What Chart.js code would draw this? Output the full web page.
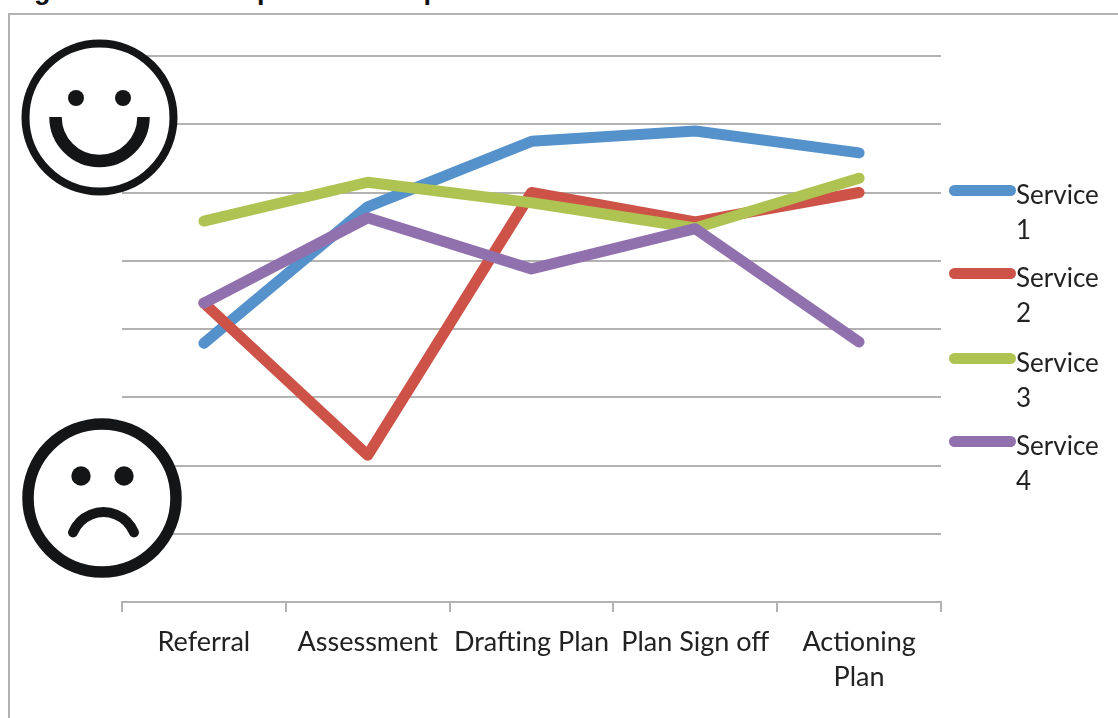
<!DOCTYPE html>
<html>
<head>
<meta charset="utf-8">
<title>Service journey</title>
<script src="https://cdn.jsdelivr.net/npm/chart.js@4"></script>
<style>
    html, body { margin: 0; padding: 0; background: #fff; overflow: hidden; }
    #wrap { position: relative; width: 1118px; height: 718px; font-family: Lato, sans-serif; color: #222; }
    #heading { position: absolute; left: 10px; top: -23px; font: bold 27px/27px "Liberation Sans", sans-serif; color: #111; white-space: nowrap; }
    #frame { position: absolute; left: 8px; top: 13px; width: 1120px; height: 720px; border: 2px solid #b3b1b1; box-sizing: border-box; }
    #chartJourney { position: absolute; left: 0; top: 0; }
    .key { position: absolute; left: 949px; width: 160px; }
    .key i { position: absolute; left: 0; top: 0; width: 67px; height: 11px; border-radius: 6px; }
    .key span { position: absolute; left: 67px; top: -8px; font-size: 26px; line-height: 35px; }
</style>
</head>
<body>
<div id="wrap">
    <div id="heading">Figure 1: Visual map of the CPA process</div>
    <div id="frame"></div>
    <canvas id="chartJourney" width="1118" height="718"></canvas>
    <div id="legend"></div>
</div>
<script>
// 단계별 서비스 점수
const stages = ['Referral', 'Assessment', 'Drafting Plan', 'Plan Sign off', ['Actioning', 'Plan']];
const serviceNames = ['Service 1', 'Service 2', 'Service 3', 'Service 4'];
const service1 = [3.79, 5.79, 6.75, 6.90, 6.58];
const service2 = [4.38, 2.15, 6.00, 5.57, 6.00];
const service3 = [5.58, 6.15, 5.85, 5.48, 6.21];
const service4 = [4.38, 5.63, 4.88, 5.47, 3.81];
const serviceColors = ['#5591cb', '#cd5349', '#afc353', '#9170ae'];
const legendTops = [185, 268, 353, 436];

// 웃는 얼굴
function drawHappyFace(ctx) {
    ctx.save();
    ctx.fillStyle = '#fff';
    ctx.strokeStyle = '#141516';
    ctx.lineWidth = 8;
    ctx.beginPath();
    ctx.arc(99.5, 117.5, 74, 0, Math.PI * 2);
    ctx.fill();
    ctx.stroke();
    ctx.fillStyle = '#141516';
    [76, 123].forEach(function (x) {
        ctx.beginPath();
        ctx.arc(x, 98, 8, 0, Math.PI * 2);
        ctx.fill();
    });
    ctx.lineWidth = 12.5;
    ctx.lineCap = 'butt';
    ctx.beginPath();
    ctx.arc(99.5, 117, 44, Math.PI, 0, true);
    ctx.stroke();
    ctx.restore();
}

// 찡그린 얼굴
function drawSadFace(ctx) {
    ctx.save();
    ctx.fillStyle = '#fff';
    ctx.strokeStyle = '#141516';
    ctx.lineWidth = 11.5;
    ctx.beginPath();
    ctx.arc(102, 498, 74, 0, Math.PI * 2);
    ctx.fill();
    ctx.stroke();
    ctx.fillStyle = '#141516';
    [81, 124].forEach(function (x) {
        ctx.beginPath();
        ctx.arc(x, 476, 9.7, 0, Math.PI * 2);
        ctx.fill();
    });
    ctx.lineWidth = 10;
    ctx.lineCap = 'round';
    ctx.beginPath();
    ctx.arc(103.5, 545, 33, Math.PI * 1.125, Math.PI * 1.875);
    ctx.stroke();
    ctx.restore();
}

const facesPlugin = {
    id: 'faces',
    afterDatasetsDraw(chart) {
        drawHappyFace(chart.ctx);
        drawSadFace(chart.ctx);
    }
};

const data = {
    labels: stages,
    datasets: serviceNames.map(function (name, i) {
        return {
            label: name,
            data: [service1, service2, service3, service4][i],
            // 뒤 시리즈가 위에 그려지도록
            order: serviceNames.length - i,
            borderColor: serviceColors[i],
            backgroundColor: serviceColors[i],
            borderWidth: 11,
            borderCapStyle: 'round',
            borderJoinStyle: 'round',
            pointRadius: 0,
            tension: 0,
            fill: false
        };
    })
};

const options = {
    responsive: false,
    animation: false,
    maintainAspectRatio: false,
    layout: { padding: { left: 122, right: 177, top: 56, bottom: 0 } },
    plugins: {
        legend: { display: false },
        title: { display: false },
        tooltip: { enabled: false }
    },
    scales: {
        x: {
            offset: true,
            afterFit(scale) { scale.height = 116; },
            grid: { display: true, drawOnChartArea: false, color: '#b3b1b1', lineWidth: 2, tickLength: 10, offset: true },
            border: { color: '#b3b1b1', width: 2 },
            ticks: { color: '#222', font: { family: 'Lato', size: 27, lineHeight: 1.3 }, maxRotation: 0, autoSkip: false, padding: 13 }
        },
        y: {
            min: 0,
            max: 8,
            position: 'left',
            afterFit(scale) { scale.width = 0; },
            grid: { color: '#b3b1b1', lineWidth: 2, drawTicks: false },
            border: { display: false },
            ticks: { display: false, stepSize: 1 }
        }
    }
};

const ctx = document.getElementById('chartJourney').getContext('2d');
const chartJourney = new Chart(ctx, { type: 'line', data: data, options: options, plugins: [facesPlugin] });

// 범례는 차트 데이터셋에서 만든다
const legendBox = document.getElementById('legend');
chartJourney.data.datasets.forEach(function (ds, i) {
    const words = ds.label.split(' ');
    const row = document.createElement('div');
    row.className = 'key';
    row.style.top = legendTops[i] + 'px';
    row.innerHTML = '<i style="background:' + ds.borderColor + '"></i><span>' + words[0] + '<br>' + words[1] + '</span>';
    legendBox.appendChild(row);
});
</script>
</body>
</html>
